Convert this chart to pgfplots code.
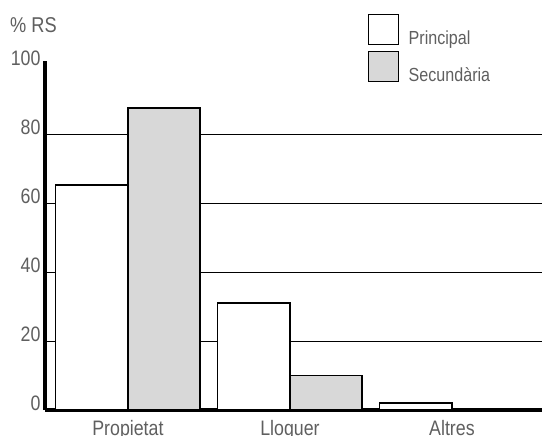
\documentclass[border=0pt]{standalone}
\usepackage{fontspec}
\setmainfont{Liberation Sans}[FakeStretch=0.85]
\usepackage{pgfplots}
\pgfplotsset{compat=1.18}
\definecolor{tg}{RGB}{95,95,95}
\definecolor{sec}{RGB}{216,216,216}
\pgfplotsset{boxlegend/.style={legend image code/.code={\draw[##1] (0bp,0bp) rectangle (30bp,30bp);}}}
\begin{document}
\begin{tikzpicture}
\begin{axis}[name=ax, scale only axis, width=497bp, height=348.5bp,
 set layers,
 xmin=-0.512, xmax=2.556, ymin=0, ymax=101,
 axis x line=bottom, axis y line=left,
 axis line style={line width=4.5bp, -, on layer=axis foreground},
 xtick={0,1,2}, xticklabels={Propietat,Lloguer,Altres},
 ytick={20,40,60,80}, extra y ticks={0,100}, extra y tick style={grid=none},
 ymajorgrids, grid style={black, line width=0.9bp},
 major tick length=0pt,
 tick label style={text=tg},
 yticklabel style={font=\fontsize{21}{23}\selectfont, yshift=7bp, xshift=-1bp},
 xticklabel style={font=\fontsize{21}{23}\selectfont, anchor=base, yshift=-25.5bp},
 /pgf/number format/assume math mode=true,
 legend style={at={(rel axis cs:0.65,1.1375)}, anchor=north west, draw=none, fill=none,
   inner sep=0pt, outer sep=0pt, row sep=3bp, column sep=7.5bp,
   font=\fontsize{19}{21}\selectfont, text=tg, cells={anchor=base west, inner sep=0pt}},
 clip=false,
]
\addplot[ybar, bar width=0.445, bar shift=-0.2225, draw=black, line width=1.2bp, fill=white, boxlegend]
  coordinates {(0,65.2) (1,31) (2,2)};
\addplot[ybar, bar width=0.445, bar shift=0.2225, draw=black, line width=1.2bp, fill=sec, boxlegend]
  coordinates {(0,87.5) (1,10) (2,0)};
\legend{Principal, Secundària}
\node[anchor=base west, inner sep=0pt, text=tg, font=\fontsize{21.5}{23}\selectfont, xshift=-35bp, yshift=28.5bp] at (rel axis cs:0,1) {\% RS};
\end{axis}
\pgfresetboundingbox
\path ([xshift=-45bp,yshift=-26bp]ax.south west) rectangle ([yshift=61.5bp]ax.north east);
\end{tikzpicture}
\end{document}
